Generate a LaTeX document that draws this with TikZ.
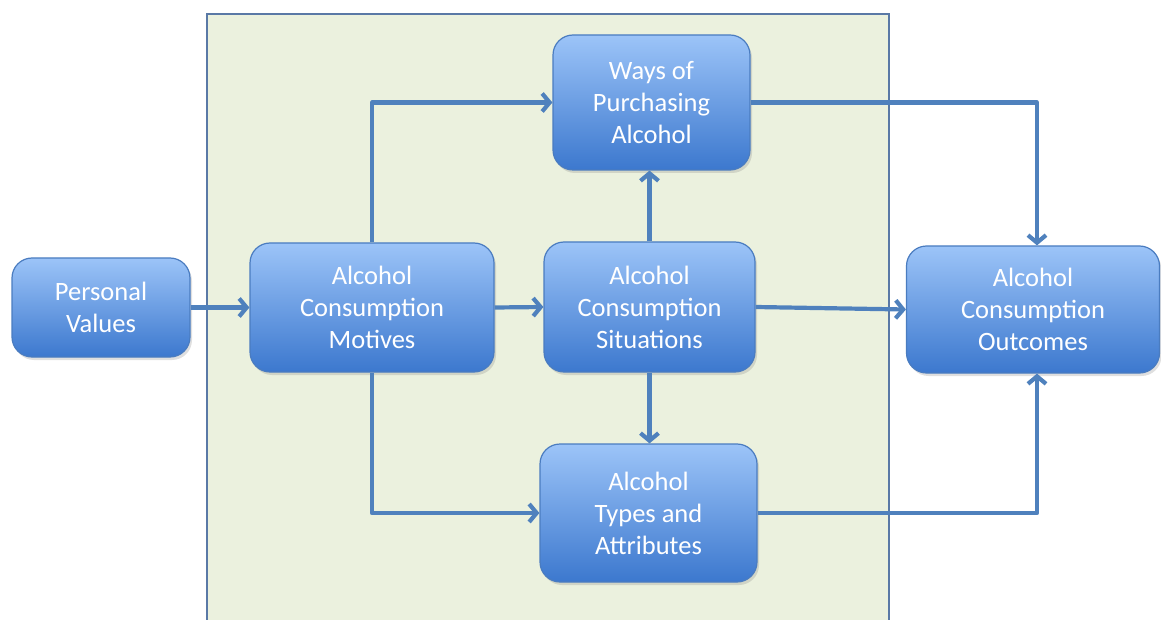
\documentclass[tikz,border=0pt]{standalone}
\usepackage{fontspec}
\setmainfont{Carlito}
\usetikzlibrary{arrows.meta,shadows,calc}
\definecolor{panelfill}{HTML}{EBF1DE}
\definecolor{panelline}{HTML}{5A79A6}
\definecolor{arrowblue}{HTML}{4F81BD}
\definecolor{boxtop}{HTML}{9CC4F8}
\definecolor{boxbot}{HTML}{3C78CE}
\definecolor{boxline}{HTML}{4A7CC0}
\tikzset{
  boxnode/.style={draw=boxline, line width=1.2pt, rounded corners=20pt,
    top color=boxtop, bottom color=boxbot, text=white, align=center,
    font=\fontsize{26.5}{32}\selectfont, inner sep=0pt,
    drop shadow={shadow xshift=2pt, shadow yshift=-3pt, opacity=0.25}},
  conn/.style={draw=arrowblue, line width=4.2pt, line join=round,
    -{Straight Barb[length=7.5pt,width=18pt]}}
}
\begin{document}
\begin{tikzpicture}[x=1pt,y=-1pt]
\useasboundingbox (0,0) rectangle (1161,620);
\fill[panelfill] (207,14) rectangle (889,620);
\draw[panelline, line width=1.5pt] (207,621) -- (207,14) -- (889,14) -- (889,621);

\node[boxnode, minimum width=178pt, minimum height=99pt] (pv) at (101,307.5) {Personal\\Values};
\node[boxnode, minimum width=244pt, minimum height=129pt] (mot) at (372,307.5) {Alcohol\\Consumption\\Motives};
\node[boxnode, minimum width=197pt, minimum height=135pt] (ways) at (651.5,102.5) {Ways of\\Purchasing\\Alcohol};
\node[boxnode, minimum width=211pt, minimum height=130pt] (sit) at (649.5,307) {Alcohol\\Consumption\\Situations};
\node[boxnode, minimum width=253pt, minimum height=127pt] (out) at (1033,309.5) {Alcohol\\Consumption\\Outcomes};
\node[boxnode, minimum width=217pt, minimum height=138pt] (types) at (648.5,513) {Alcohol\\Types and\\Attributes};

\draw[conn] (pv.east) -- (mot.west);
\draw[conn] (mot.east) -- (sit.west);
\draw[conn] (mot.north) |- (ways.west);
\draw[conn] (mot.south) |- (types.west);
\draw[conn] (sit.north) -- (sit.north |- ways.south);
\draw[conn] (sit.south) -- (sit.south |- types.north);
\draw[conn] (sit.east) -- (out.west);
\draw[conn] (ways.east) -| ([xshift=4pt]out.north);
\draw[conn] (types.east) -| ([xshift=4pt]out.south);
\end{tikzpicture}
\end{document}
